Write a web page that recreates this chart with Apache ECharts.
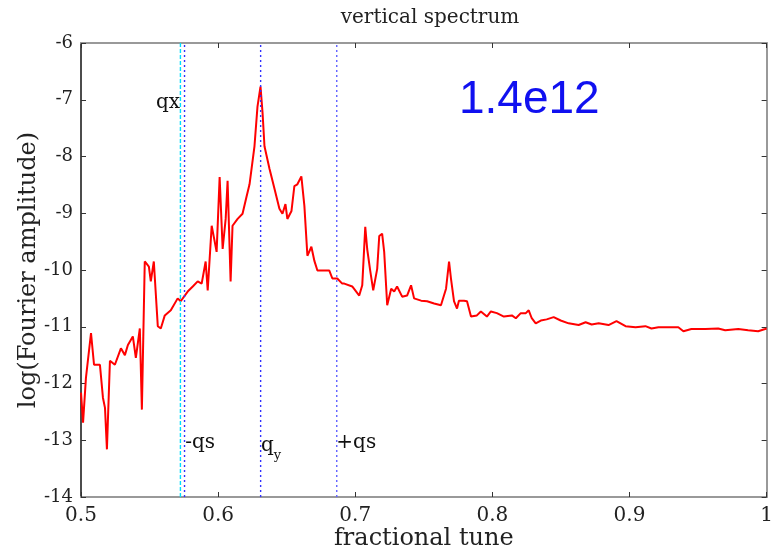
<!DOCTYPE html>
<html>
<head>
<meta charset="utf-8">
<script src="https://cdn.jsdelivr.net/npm/echarts@6/dist/echarts.min.js"></script>
<style>
  html, body { margin: 0; padding: 0; background: #fff; }
  #chart { width: 776px; height: 556px; }
</style>
</head>
<body>
<div id="chart"></div>
<script>
// spectrum: tune -> log10(amplitude)
var tune = [
    0.5000, 0.5015, 0.5036, 0.5073, 0.5095, 0.5138, 0.5160, 0.5175, 0.5189, 0.5211,
    0.5247, 0.5291, 0.5320, 0.5342, 0.5378, 0.5400, 0.5429, 0.5444, 0.5465, 0.5495,
    0.5509, 0.5531, 0.5560, 0.5582, 0.5611, 0.5655, 0.5705, 0.5727, 0.5778, 0.5815,
    0.5851, 0.5880, 0.5909, 0.5924, 0.5953, 0.5975, 0.5989, 0.6011, 0.6033, 0.6055,
    0.6069, 0.6091, 0.6105, 0.6142, 0.6178, 0.6207, 0.6229, 0.6265, 0.6287, 0.6309,
    0.6324, 0.6338, 0.6375, 0.6411, 0.6447, 0.6469, 0.6491, 0.6505, 0.6535, 0.6556,
    0.6578, 0.6607, 0.6629, 0.6651, 0.6680, 0.6702, 0.6724, 0.6775, 0.6811, 0.6833,
    0.6869, 0.6905, 0.6920, 0.6978, 0.7029, 0.7051, 0.7073, 0.7087, 0.7109, 0.7131,
    0.7160, 0.7175, 0.7196, 0.7211, 0.7233, 0.7262, 0.7284, 0.7305, 0.7342, 0.7378,
    0.7407, 0.7429, 0.7480, 0.7524, 0.7575, 0.7625, 0.7662, 0.7684, 0.7698, 0.7720,
    0.7742, 0.7756, 0.7793, 0.7815, 0.7844, 0.7887, 0.7916, 0.7960, 0.7989, 0.8033,
    0.8084, 0.8142, 0.8171, 0.8207, 0.8244, 0.8265, 0.8287, 0.8316, 0.8353, 0.8396,
    0.8447, 0.8498, 0.8556, 0.8629, 0.8680, 0.8724, 0.8775, 0.8847, 0.8905, 0.8971,
    0.9044, 0.9116, 0.9160, 0.9211, 0.9305, 0.9356, 0.9393, 0.9451, 0.9553, 0.9647,
    0.9698, 0.9793, 0.9865, 0.9938, 0.9989, 1.0000
];
var amp = [
    -12.16, -12.69, -11.90, -11.11, -11.67, -11.67, -12.25, -12.43, -13.16, -11.60,
    -11.67, -11.38, -11.50, -11.32, -11.17, -11.55, -11.03, -12.46, -9.85, -9.94,
    -10.20, -9.85, -10.99, -11.03, -10.80, -10.71, -10.50, -10.55, -10.38, -10.29,
    -10.20, -10.24, -9.85, -10.36, -9.22, -9.50, -9.68, -8.36, -9.63, -9.10,
    -8.43, -10.20, -9.22, -9.10, -9.01, -8.71, -8.49, -7.82, -7.12, -6.77,
    -7.23, -7.82, -8.22, -8.57, -8.92, -9.01, -8.84, -9.10, -8.96, -8.52,
    -8.49, -8.35, -8.87, -9.75, -9.59, -9.84, -10.01, -10.01, -10.01, -10.15,
    -10.15, -10.24, -10.24, -10.29, -10.45, -10.27, -9.24, -9.63, -10.01, -10.36,
    -9.98, -9.40, -9.36, -9.68, -10.62, -10.33, -10.38, -10.29, -10.47, -10.45,
    -10.27, -10.50, -10.54, -10.55, -10.59, -10.62, -10.33, -9.85, -10.15, -10.55,
    -10.68, -10.54, -10.54, -10.55, -10.82, -10.80, -10.73, -10.82, -10.73, -10.76,
    -10.82, -10.80, -10.85, -10.76, -10.76, -10.71, -10.85, -10.94, -10.89, -10.87,
    -10.83, -10.89, -10.94, -10.97, -10.92, -10.96, -10.94, -10.97, -10.90, -10.99,
    -11.01, -10.99, -11.03, -11.01, -11.01, -11.01, -11.08, -11.04, -11.04, -11.03,
    -11.06, -11.04, -11.06, -11.08, -11.04, -11.03
];

// reference tune lines (qx, -qs, qy, +qs)
var lineTunes = [0.5725, 0.5755, 0.631, 0.6865];
var lineColors = ['#00e0ff', '#3030ff', '#3030ff', '#6060ff'];
var lineTypes = [[4, 2], [2, 3], [2, 3], [2, 3]];

// annotations: [text, tune, log amp, align]
var notes = [
    ['qx', 0.5722, -7.05, 'right'],
    ['-qs', 0.5760, -13.05, 'left'],
    ['{q|q}{s|y}', 0.6312, -13.05, 'left'],
    ['+qs', 0.6862, -13.05, 'left']
];

var serif = '"DejaVu Serif", "Liberation Serif", serif';

var myChart = echarts.init(document.getElementById('chart'));

var pts = tune.map(function (t, i) { return [t, amp[i]]; });

var series = [
    {
        type: 'line',
        data: pts,
        showSymbol: false,
        lineStyle: { color: '#ff0000', width: 2 },
        z: 3
    }
];
lineTunes.forEach(function (t, i) {
    series.push({
        type: 'line',
        data: [[t, -14], [t, -6]],
        showSymbol: false,
        silent: true,
        lineStyle: { color: lineColors[i], type: lineTypes[i], width: 1.4 },
        z: 4
    });
});

var option = {
    animation: false,
    backgroundColor: '#fff',
    title: {
        text: 'vertical spectrum',
        left: 425,
        textAlign: 'center',
        top: 3,
        textStyle: { fontFamily: serif, fontSize: 20, fontWeight: 'normal', color: '#222' }
    },
    grid: { left: 81, right: 7, top: 43, bottom: 56 },
    xAxis: [
        {
            type: 'value', min: 0.5, max: 1, interval: 0.1,
            name: 'fractional tune', nameLocation: 'middle', nameGap: 30,
            nameMoveOverlap: false,
            nameTextStyle: { fontFamily: serif, fontSize: 24, color: '#222' },
            axisLine: { lineStyle: { color: '#999', width: 2 } },
            axisTick: { inside: true, length: 5, lineStyle: { color: '#333' } },
            axisLabel: { fontFamily: serif, fontSize: 20, color: '#222', margin: 9 },
            splitLine: { show: false }
        },
        {
            type: 'value', min: 0.5, max: 1, interval: 0.1, position: 'top',
            axisLine: { lineStyle: { color: '#999', width: 2 } },
            axisTick: { inside: true, length: 5, lineStyle: { color: '#333' } },
            axisLabel: { show: false },
            splitLine: { show: false }
        }
    ],
    yAxis: [
        {
            type: 'value', min: -14, max: -6, interval: 1,
            name: 'log(Fourier amplitude)', nameLocation: 'middle', nameGap: 40,
            nameMoveOverlap: false,
            nameTextStyle: { fontFamily: serif, fontSize: 24, color: '#222' },
            axisLine: { lineStyle: { color: '#111', width: 1.5 } },
            axisTick: { inside: true, length: 5, lineStyle: { color: '#333' } },
            axisLabel: { fontFamily: serif, fontSize: 18, color: '#222', margin: 8 },
            splitLine: { show: false }
        },
        {
            type: 'value', min: -14, max: -6, interval: 1, position: 'right',
            axisLine: { show: true, lineStyle: { color: '#999', width: 2 } },
            axisTick: { show: true, inside: true, length: 5, lineStyle: { color: '#333' } },
            axisLabel: { show: false },
            splitLine: { show: false }
        }
    ],
    series: series
};
myChart.setOption(option);

// tune labels and intensity text
var texts = notes.map(function (n) {
    var p = myChart.convertToPixel({ xAxisIndex: 0, yAxisIndex: 0 }, [n[1], n[2]]);
    return {
        type: 'text', x: p[0], y: p[1],
        style: {
            text: n[0], align: n[3], verticalAlign: 'middle',
            fontFamily: serif, fontSize: 20, fill: '#111',
            rich: {
                q: { fontFamily: serif, fontSize: 20, lineHeight: 26, verticalAlign: 'bottom' },
                s: { fontFamily: serif, fontSize: 13, lineHeight: 16, verticalAlign: 'bottom', padding: [0, 0, -6, 0] }
            }
        },
        z: 10
    };
});
texts.push({
    type: 'text', x: 459, y: 100,
    style: {
        text: '1.4e12', verticalAlign: 'middle',
        fontFamily: '"Liberation Sans", Arial, sans-serif', fontSize: 46, fill: '#1010f0'
    },
    z: 10
});
myChart.setOption({ graphic: texts });

window.addEventListener('resize', function () {
    myChart.resize();
});
</script>
</body>
</html>
